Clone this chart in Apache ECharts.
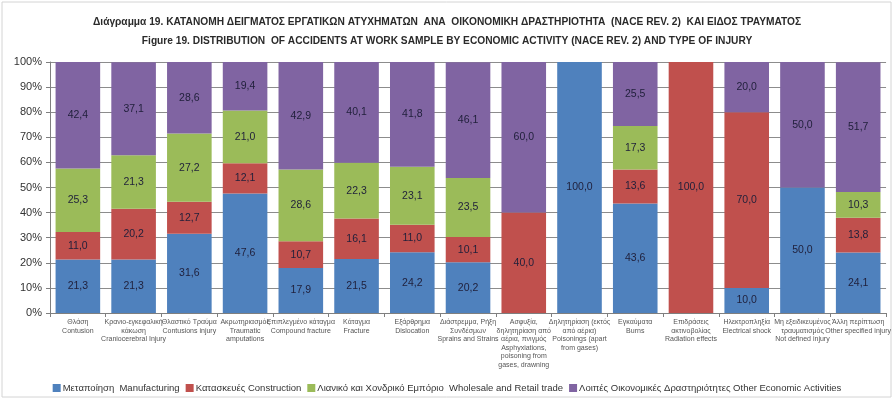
<!DOCTYPE html>
<html>
<head>
<meta charset="utf-8">
<script src="https://cdn.jsdelivr.net/npm/echarts@6/dist/echarts.min.js"></script>
<style>
  html, body { margin: 0; padding: 0; background: #ffffff; }
  #chart { width: 894px; height: 400px; }
</style>
</head>
<body>
<div id="chart"></div>
<script>
// Injury types (Greek / English)
const categories = [
  'Θλάση\nContusion',
  'Κρανιο-εγκεφαλική\nκάκωση\nCraniocerebral Injury',
  'Θλαστικό Τραύμα\nContusions injury',
  'Ακρωτηριασμός\nTraumatic\namputations',
  'Επιπλεγμένο κάταγμα\nCompound fracture',
  'Κάταγμα\nFracture',
  'Εξάρθρημα\nDislocation',
  'Διάστρεμμα, Ρήξη\nΣυνδέσμων\nSprains and Strains',
  'Ασφυξία,\nδηλητηρίαση από\nαέρια, πνιγμός\nAsphyxiations,\npoisoning from\ngases, drawning',
  'Δηλητηρίαση (εκτός\nαπό αέρια)\nPoisonings (apart\nfrom gases)',
  'Εγκαύματα\nBurns',
  'Επιδράσεις\nακτινοβολίας\nRadiation effects',
  'Ηλεκτροπληξία\nElectrical shock',
  'Μη εξειδικευμένος\nτραυματισμός\nNot defined injury',
  'Άλλη περίπτωση\nOther specified injury'
];

// Share of accidents (%) by economic activity
const manufacturing = [21.3, 21.3, 31.6, 47.6, 17.9, 21.5, 24.2, 20.2, 0, 100.0, 43.6, 0, 10.0, 50.0, 24.1];
const construction  = [11.0, 20.2, 12.7, 12.1, 10.7, 16.1, 11.0, 10.1, 40.0, 0, 13.6, 100.0, 70.0, 0, 13.8];
const trade         = [25.3, 21.3, 27.2, 21.0, 28.6, 22.3, 23.1, 23.5, 0, 0, 17.3, 0, 0, 0, 10.3];
const other         = [42.4, 37.1, 28.6, 19.4, 42.9, 40.1, 41.8, 46.1, 60.0, 0, 25.5, 0, 20.0, 50.0, 51.7];

const seriesNames = [
  'Μεταποίηση  Manufacturing',
  'Κατασκευές Construction',
  'Λιανικό και Χονδρικό Εμπόριο  Wholesale and Retail trade',
  'Λοιπές Οικονομικές Δραστηριότητες Other Economic Activities'
];
const colors = ['#4F81BD', '#C0504D', '#9BBB59', '#8064A2'];
const yTicks = [0, 10, 20, 30, 40, 50, 60, 70, 80, 90, 100];

const FONT = '"Liberation Sans Narrow", "Liberation Sans", sans-serif';

const chart = echarts.init(document.getElementById('chart'), null, { renderer: 'canvas' });

function makeSeries(name, values, color) {
  return {
    name: name,
    type: 'bar',
    stack: 'total',
    barWidth: '80%',
    itemStyle: { color: color },
    label: {
      show: true,
      position: 'inside',
      color: '#1f1f3a',
      fontFamily: FONT,
      fontSize: 10.5,
      formatter: p => p.value ? p.value.toFixed(1).replace('.', ',') : ''
    },
    data: values
  };
}

chart.setOption({
  backgroundColor: '#ffffff',
  animation: false,
  graphic: [{
    type: 'rect',
    shape: { x: 2, y: 2, width: 889, height: 395 },
    style: { fill: 'none', stroke: '#d4d4d4', lineWidth: 1 },
    silent: true
  }],
  title: {
    text: 'Διάγραμμα 19. ΚΑΤΑΝΟΜΗ ΔΕΙΓΜΑΤΟΣ ΕΡΓΑΤΙΚΩΝ ΑΤΥΧΗΜΑΤΩΝ  ΑΝΑ  ΟΙΚΟΝΟΜΙΚΗ ΔΡΑΣΤΗΡΙΟΤΗΤΑ  (NACE REV. 2)  ΚΑΙ ΕΙΔΟΣ ΤΡΑΥΜΑΤΟΣ\nFigure 19. DISTRIBUTION  OF ACCIDENTS AT WORK SAMPLE BY ECONOMIC ACTIVITY (NACE REV. 2) AND TYPE OF INJURY',
    left: 'center',
    top: 8,
    textStyle: {
      fontFamily: FONT,
      fontSize: 10.2,
      fontWeight: 'bold',
      color: '#2a2a2a',
      lineHeight: 19
    }
  },
  legend: {
    bottom: 2,
    left: 'center',
    itemWidth: 8,
    itemHeight: 8,
    itemGap: 6,
    icon: 'rect',
    textStyle: { fontFamily: FONT, fontSize: 9.5, color: '#333', padding: [0, 0, 0, -3] },
    data: seriesNames
  },
  grid: { left: 50, right: 6, top: 62, bottom: 87, containLabel: false },
  xAxis: {
    type: 'category',
    data: categories,
    axisLine: { show: true, lineStyle: { color: '#7f7f7f' } },
    axisTick: { show: true, alignWithLabel: false, length: 4, lineStyle: { color: '#7f7f7f' } },
    axisLabel: {
      interval: 0,
      fontFamily: FONT,
      fontSize: 7,
      lineHeight: 8.5,
      color: '#555',
      margin: 5
    }
  },
  yAxis: {
    type: 'value',
    min: yTicks[0],
    max: yTicks[yTicks.length - 1],
    interval: 10,
    axisLine: { show: true, lineStyle: { color: '#7f7f7f' } },
    axisTick: { show: true, length: 4, lineStyle: { color: '#7f7f7f' } },
    splitLine: { show: true, lineStyle: { color: '#8c8c8c', width: 1 } },
    axisLabel: {
      fontFamily: FONT,
      fontSize: 11,
      color: '#333',
      margin: 8,
      formatter: '{value}%'
    }
  },
  series: [
    makeSeries(seriesNames[0], manufacturing, colors[0]),
    makeSeries(seriesNames[1], construction, colors[1]),
    makeSeries(seriesNames[2], trade, colors[2]),
    makeSeries(seriesNames[3], other, colors[3])
  ]
});
</script>
</body>
</html>
